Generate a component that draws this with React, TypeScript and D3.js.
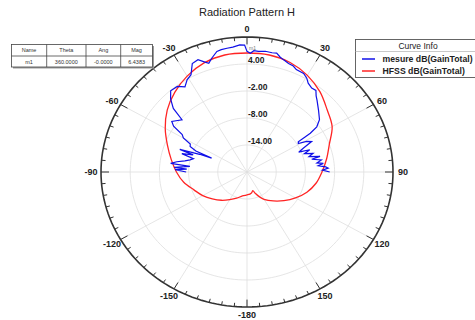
import React from "react";
import * as d3 from "d3";

// Polar grid settings (dB)
const ringValues = [-14, -8, -2, 4];
const ringLabels = ["-14.00", "-8.00", "-2.00", "4.00"];
const angleLabelValues = [0, 30, 60, 90, 120, 150, 180, -150, -120, -90, -60, -30];
const angleLabelTexts = ["0", "30", "60", "90", "120", "150", "-180", "-150", "-120", "-90", "-60", "-30"];

// HFSS simulated gain (deg, dB)
const hfssTheta = [-180, -170, -160, -150, -140, -130, -120, -110, -100, -90, -80, -70, -60, -50, -40, -30, -20, -10, 0, 10, 20, 30, 40, 50, 60, 70, 80, 90, 100, 110, 120, 130, 140, 150, 155, 160, 164, 168, 172, 176];
const hfssGain = [-14.9, -14.6, -13.8, -12.9, -11.8, -10.7, -9.5, -8.4, -6.8, -5.5, -4.2, -2.6, -0.6, 1.4, 3.1, 4.6, 5.8, 6.4, 6.44, 6.4, 5.9, 4.8, 3.3, 1.5, 0.2, -2.0, -3.4, -4.6, -5.6, -6.9, -8.5, -10.1, -11.6, -13.0, -13.9, -14.9, -15.7, -15.3, -15.1, -15.0];

// Measured gain (deg, dB)
const mesTheta = [-90, -88, -87, -86, -84, -83, -81, -79, -77, -75, -73, -71, -70, -68, -67, -66, -64, -62, -60, -58, -56, -54, -52, -49, -47, -44, -41, -37, -34, -31, -28, -25, -22, -20, -18, -16, -13, -11, -8.5, -6, -3, -1, 0, 1.5, 3, 5, 8, 11, 13, 15, 17, 19.5, 22, 24, 28, 30.5, 32.5, 35.5, 38, 40, 42, 47, 52, 55, 56.5, 57.5, 59, 61, 63, 65.5, 67.5, 69, 71, 73, 75, 77, 78, 80, 82, 83, 84.5, 86, 87, 88.5, 90];
const mesGain = [-7.5, -5.2, -7.6, -5.0, -8.2, -4.2, -5.4, -7.0, -8.0, -8.6, -6.0, -8.3, -5.3, -9.5, -12.1, -8.5, -7.0, -6.8, -4.9, -4.3, -1.8, -0.9, -1.5, -2.3, 0.7, 2.6, 3.9, 3.8, 2.8, 3.9, 4.5, 6.6, 6.9, 6.1, 5.4, 6.3, 7.5, 7.7, 7.8, 7.9, 8.3, 8.2, 6.8, 6.4, 7.0, 6.9, 7.1, 7.0, 7.1, 6.4, 6.0, 5.6, 5.4, 4.9, 4.8, 4.2, 3.4, 2.9, 3.0, 2.1, 1.5, 0.1, -1.1, -2.5, -4.4, -7.5, -7.7, -6.0, -5.1, -7.3, -8.5, -6.2, -7.5, -5.8, -6.8, -4.6, -6.4, -4.5, -5.5, -4.2, -5.3, -3.8, -3.3, -4.5, -3.0];

// Marker table
const tableHeaders = ["Name", "Theta", "Ang", "Mag"];
const tableRow = ["m1", "360.0000", "-0.0000", "6.4383"];

// Legend entries
const seriesNames = ["mesure dB(GainTotal)", "HFSS dB(GainTotal)"];
const seriesColors = ["#1010e8", "#ff2424"];

const W = 475;
const H = 320;
const CX = 247;
const CY = 172;
const RX = 146;
const RY = 135;
const FONT = "'Liberation Sans', Arial, sans-serif";

const rScale = d3.scaleLinear().domain([-20, 10]).range([0, 1]);

function pt(thetaDeg: number, frac: number): [number, number] {
  const a = (thetaDeg * Math.PI) / 180;
  return [CX + RX * frac * Math.sin(a), CY - RY * frac * Math.cos(a)];
}

function ellipsePath(frac: number) {
  const pts = d3.range(0, 361, 2).map((t) => pt(t, frac));
  return d3.line()(pts as [number, number][]) + "Z";
}

export default function App() {
  const hfssPts = hfssTheta.map((t, i) => pt(t, rScale(hfssGain[i])));
  const mesPts = mesTheta.map((t, i) => pt(t, rScale(mesGain[i])));
  const hfssPath = d3.line().curve(d3.curveCatmullRomClosed.alpha(0.5))(hfssPts as [number, number][]);
  const mesPath = d3.line()(mesPts as [number, number][]);

  const spokes = d3.range(0, 360, 30);
  const ticks = d3.range(0, 360, 5);

  const colX = [11.5, 46.7, 86, 120.7, 152.5];

  return (
    <svg width={W} height={H} style={{ position: "absolute", left: 0, top: 0, background: "#fff" }} fontFamily={FONT}>
      <text x={CX} y={16} textAnchor="middle" fontSize={11} fill="#222">
        Radiation Pattern H
      </text>

      {/* grid rings */}
      {ringValues.map((v) => (
        <path key={v} d={ellipsePath(rScale(v))} fill="none" stroke="#dedede" strokeWidth={0.8} />
      ))}
      {/* spokes */}
      {spokes.map((t) => {
        const [x, y] = pt(t, 1);
        return <line key={t} x1={CX} y1={CY} x2={x} y2={y} stroke="#dedede" strokeWidth={0.8} />;
      })}

      {/* outer circle */}
      <path d={ellipsePath(1)} fill="none" stroke="#333" strokeWidth={1.6} />
      {ticks.map((t) => {
        const major = t % 30 === 0;
        const [x1, y1] = pt(t, 1);
        const [x2, y2] = pt(t, major ? 1 - 8 / RX : 1 - 4 / RX);
        return <line key={t} x1={x1} y1={y1} x2={x2} y2={y2} stroke="#333" strokeWidth={1} />;
      })}

      {/* angle labels */}
      {angleLabelValues.map((t, i) => {
        const a = (t * Math.PI) / 180;
        const x = CX + (RX + 10) * Math.sin(a);
        const y = CY - (RY + 8) * Math.cos(a);
        return (
          <text key={t} x={x} y={y} dy="0.35em" textAnchor="middle" fontSize={9} fontWeight="bold" fill="#222">
            {angleLabelTexts[i]}
          </text>
        );
      })}

      {/* ring labels */}
      {ringValues.map((v, i) => {
        const y = CY - RY * rScale(v);
        return (
          <text key={v} x={248} y={y - 1} fontSize={8.5} fontWeight="bold" fill="#222">
            {ringLabels[i]}
          </text>
        );
      })}

      {/* curves */}
      <path d={hfssPath || ""} fill="none" stroke={seriesColors[1]} strokeWidth={1.3} />
      <path d={mesPath || ""} fill="none" stroke={seriesColors[0]} strokeWidth={1.2} />
      <text x={249} y={50} fontSize={5} fill="#777">m1</text>

      {/* marker table */}
      <rect x={13} y={46} width={141} height={22.5} fill="#999" />
      <rect x={11.5} y={44.5} width={141} height={22.5} fill="#fff" stroke="#444" strokeWidth={0.8} />
      <line x1={11.5} x2={152.5} y1={56} y2={56} stroke="#444" strokeWidth={0.8} />
      {colX.slice(1, 4).map((x) => (
        <line key={x} x1={x} x2={x} y1={44.5} y2={67} stroke="#444" strokeWidth={0.8} />
      ))}
      {tableHeaders.map((h, i) => (
        <text key={h} x={(colX[i] + colX[i + 1]) / 2} y={50.5} dy="0.35em" textAnchor="middle" fontSize={5.5} fill="#333">
          {h}
        </text>
      ))}
      {tableRow.map((c, i) => (
        <text key={i} x={(colX[i] + colX[i + 1]) / 2} y={61.8} dy="0.35em" textAnchor="middle" fontSize={5.5} fill="#333">
          {c}
        </text>
      ))}

      {/* legend */}
      <rect x={355.5} y={39.5} width={130} height={38} fill="#fff" stroke="#555" strokeWidth={0.9} />
      <line x1={355.5} x2={475} y1={51.5} y2={51.5} stroke="#bbb" strokeWidth={0.8} />
      <text x={418} y={45.7} dy="0.35em" textAnchor="middle" fontSize={8.5} fontWeight={500} fill="#222">
        Curve Info
      </text>
      {seriesNames.map((n, i) => {
        const y = 59 + i * 12;
        return (
          <g key={n}>
            <line x1={362} x2={375} y1={y} y2={y} stroke={seriesColors[i]} strokeWidth={1.5} />
            <text x={382.5} y={y} dy="0.35em" fontSize={8.7} fontWeight="bold" fill="#222">
              {n}
            </text>
          </g>
        );
      })}
    </svg>
  );
}
